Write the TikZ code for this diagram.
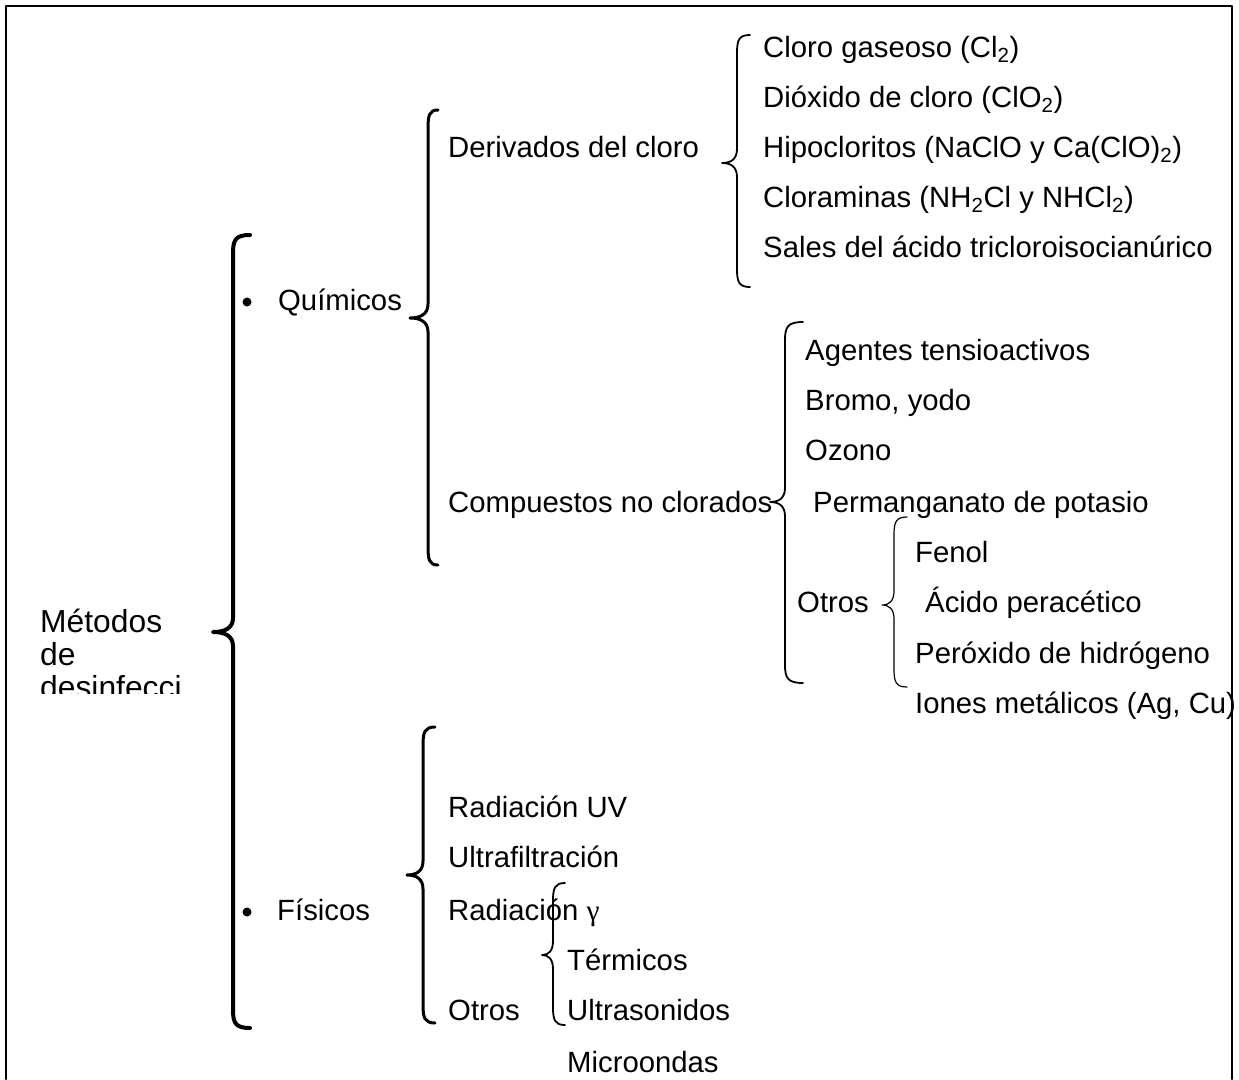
\documentclass[tikz,border=0pt]{standalone}
\usepackage{fontspec}
\setmainfont{Liberation Sans}
\newfontfamily\griega{Liberation Serif}
\usepackage{tikz}
\usetikzlibrary{calc}

% llave: [estilo] x, y arriba, y punta, y abajo, rizo, profundidad
\newcommand{\llave}[7][]{%
  \draw[#1] ({#2+#6},#3) .. controls ({#2+0.15*#6},#3) and (#2,{#3+5}) .. (#2,{#3+18})
    -- (#2,{#4-14}) .. controls (#2,{#4-4}) and ({#2-0.4*#7},#4) .. ({#2-#7},#4)
    .. controls ({#2-0.4*#7},#4) and (#2,{#4+4}) .. (#2,{#4+14})
    -- (#2,{#5-18}) .. controls (#2,{#5-5}) and ({#2+0.15*#6},#5) .. ({#2+#6},#5);}

\begin{document}
\begin{tikzpicture}[x=1pt, y=-1pt, line cap=round, line join=round,
  txt/.style={anchor=base west, inner sep=0pt, font=\fontsize{29.3}{35}\selectfont}]

\useasboundingbox (0,0) rectangle (1239,1079);

% Marco
\draw[line width=2pt] (6,1079) -- (6,6) -- (1232,6) -- (1232,1079);

% Titulo (cortado por abajo)
\begin{scope}
  \clip (20,580) rectangle (210,693);
  \node[anchor=base west, inner sep=0pt, align=left,
        font=\fontsize{31.8}{33}\selectfont] (metodos) at (40,698)
        {Métodos\\de\\desinfecci};
\end{scope}

% Llaves
\llave[line width=4pt]{233}{235}{632}{1028}{17}{20}
\llave[line width=3pt]{428}{110}{318}{565}{10}{18}
\llave[line width=1.8pt]{737}{35}{163}{287}{13}{15}
\llave[line width=1.8pt]{785}{322}{502}{683}{18}{15}
\llave[line width=1.2pt]{894}{517}{605}{687}{13}{12}
\llave[line width=3pt]{423}{727}{875}{1023}{12}{16}
\llave[line width=1.8pt]{553}{883}{955}{1025}{12}{11}

% Vinetas
\fill (247,302) circle (4.5);
\fill (247,912) circle (4.5);

% Primer nivel
\node[txt] (quimicos) at (278,310) {Químicos};
\node[txt] (fisicos) at (277,920) {Físicos};

% Quimicos
\node[txt] (derivados) at (448,157) {Derivados del cloro};
\node[txt] (compuestos) at (448,512) {Compuestos no clorados};

\node[txt] (cloro) at (763,57) {Cloro gaseoso (Cl\textsubscript{2})};
\node[txt] (dioxido) at (763,107) {Dióxido de cloro (ClO\textsubscript{2})};
\node[txt] (hipo) at (763,157) {Hipocloritos (NaClO y Ca(ClO)\textsubscript{2})};
\node[txt] (cloraminas) at (763,207) {Cloraminas (NH\textsubscript{2}Cl y NHCl\textsubscript{2})};
\node[txt] (sales) at (763,257) {Sales del ácido tricloroisocianúrico};

\node[txt] (agentes) at (805,360) {Agentes tensioactivos};
\node[txt] (bromo) at (805,410) {Bromo, yodo};
\node[txt] (ozono) at (805,460) {Ozono};
\node[txt] (perman) at (813,512) {Permanganato de potasio};
\node[txt] (otrosq) at (797,612) {Otros};
\node[txt] (fenol) at (915,562) {Fenol};
\node[txt] (acido) at (925,612) {Ácido peracético};
\node[txt] (peroxido) at (915,663) {Peróxido de hidrógeno};
\node[txt] (iones) at (915,713) {Iones metálicos (Ag, Cu)};

% Fisicos
\node[txt] (uv) at (448,817) {Radiación UV};
\node[txt] (ultrafil) at (448,867) {Ultrafiltración};
\node[txt] (gamma) at (448,920) {Radiación {\griega γ}};
\node[txt] (otrosf) at (448,1020) {Otros};
\node[txt] (termicos) at (567,970) {Térmicos};
\node[txt] (ultrason) at (567,1020) {Ultrasonidos};
\node[txt] (micro) at (567,1072) {Microondas};

\end{tikzpicture}
\end{document}
